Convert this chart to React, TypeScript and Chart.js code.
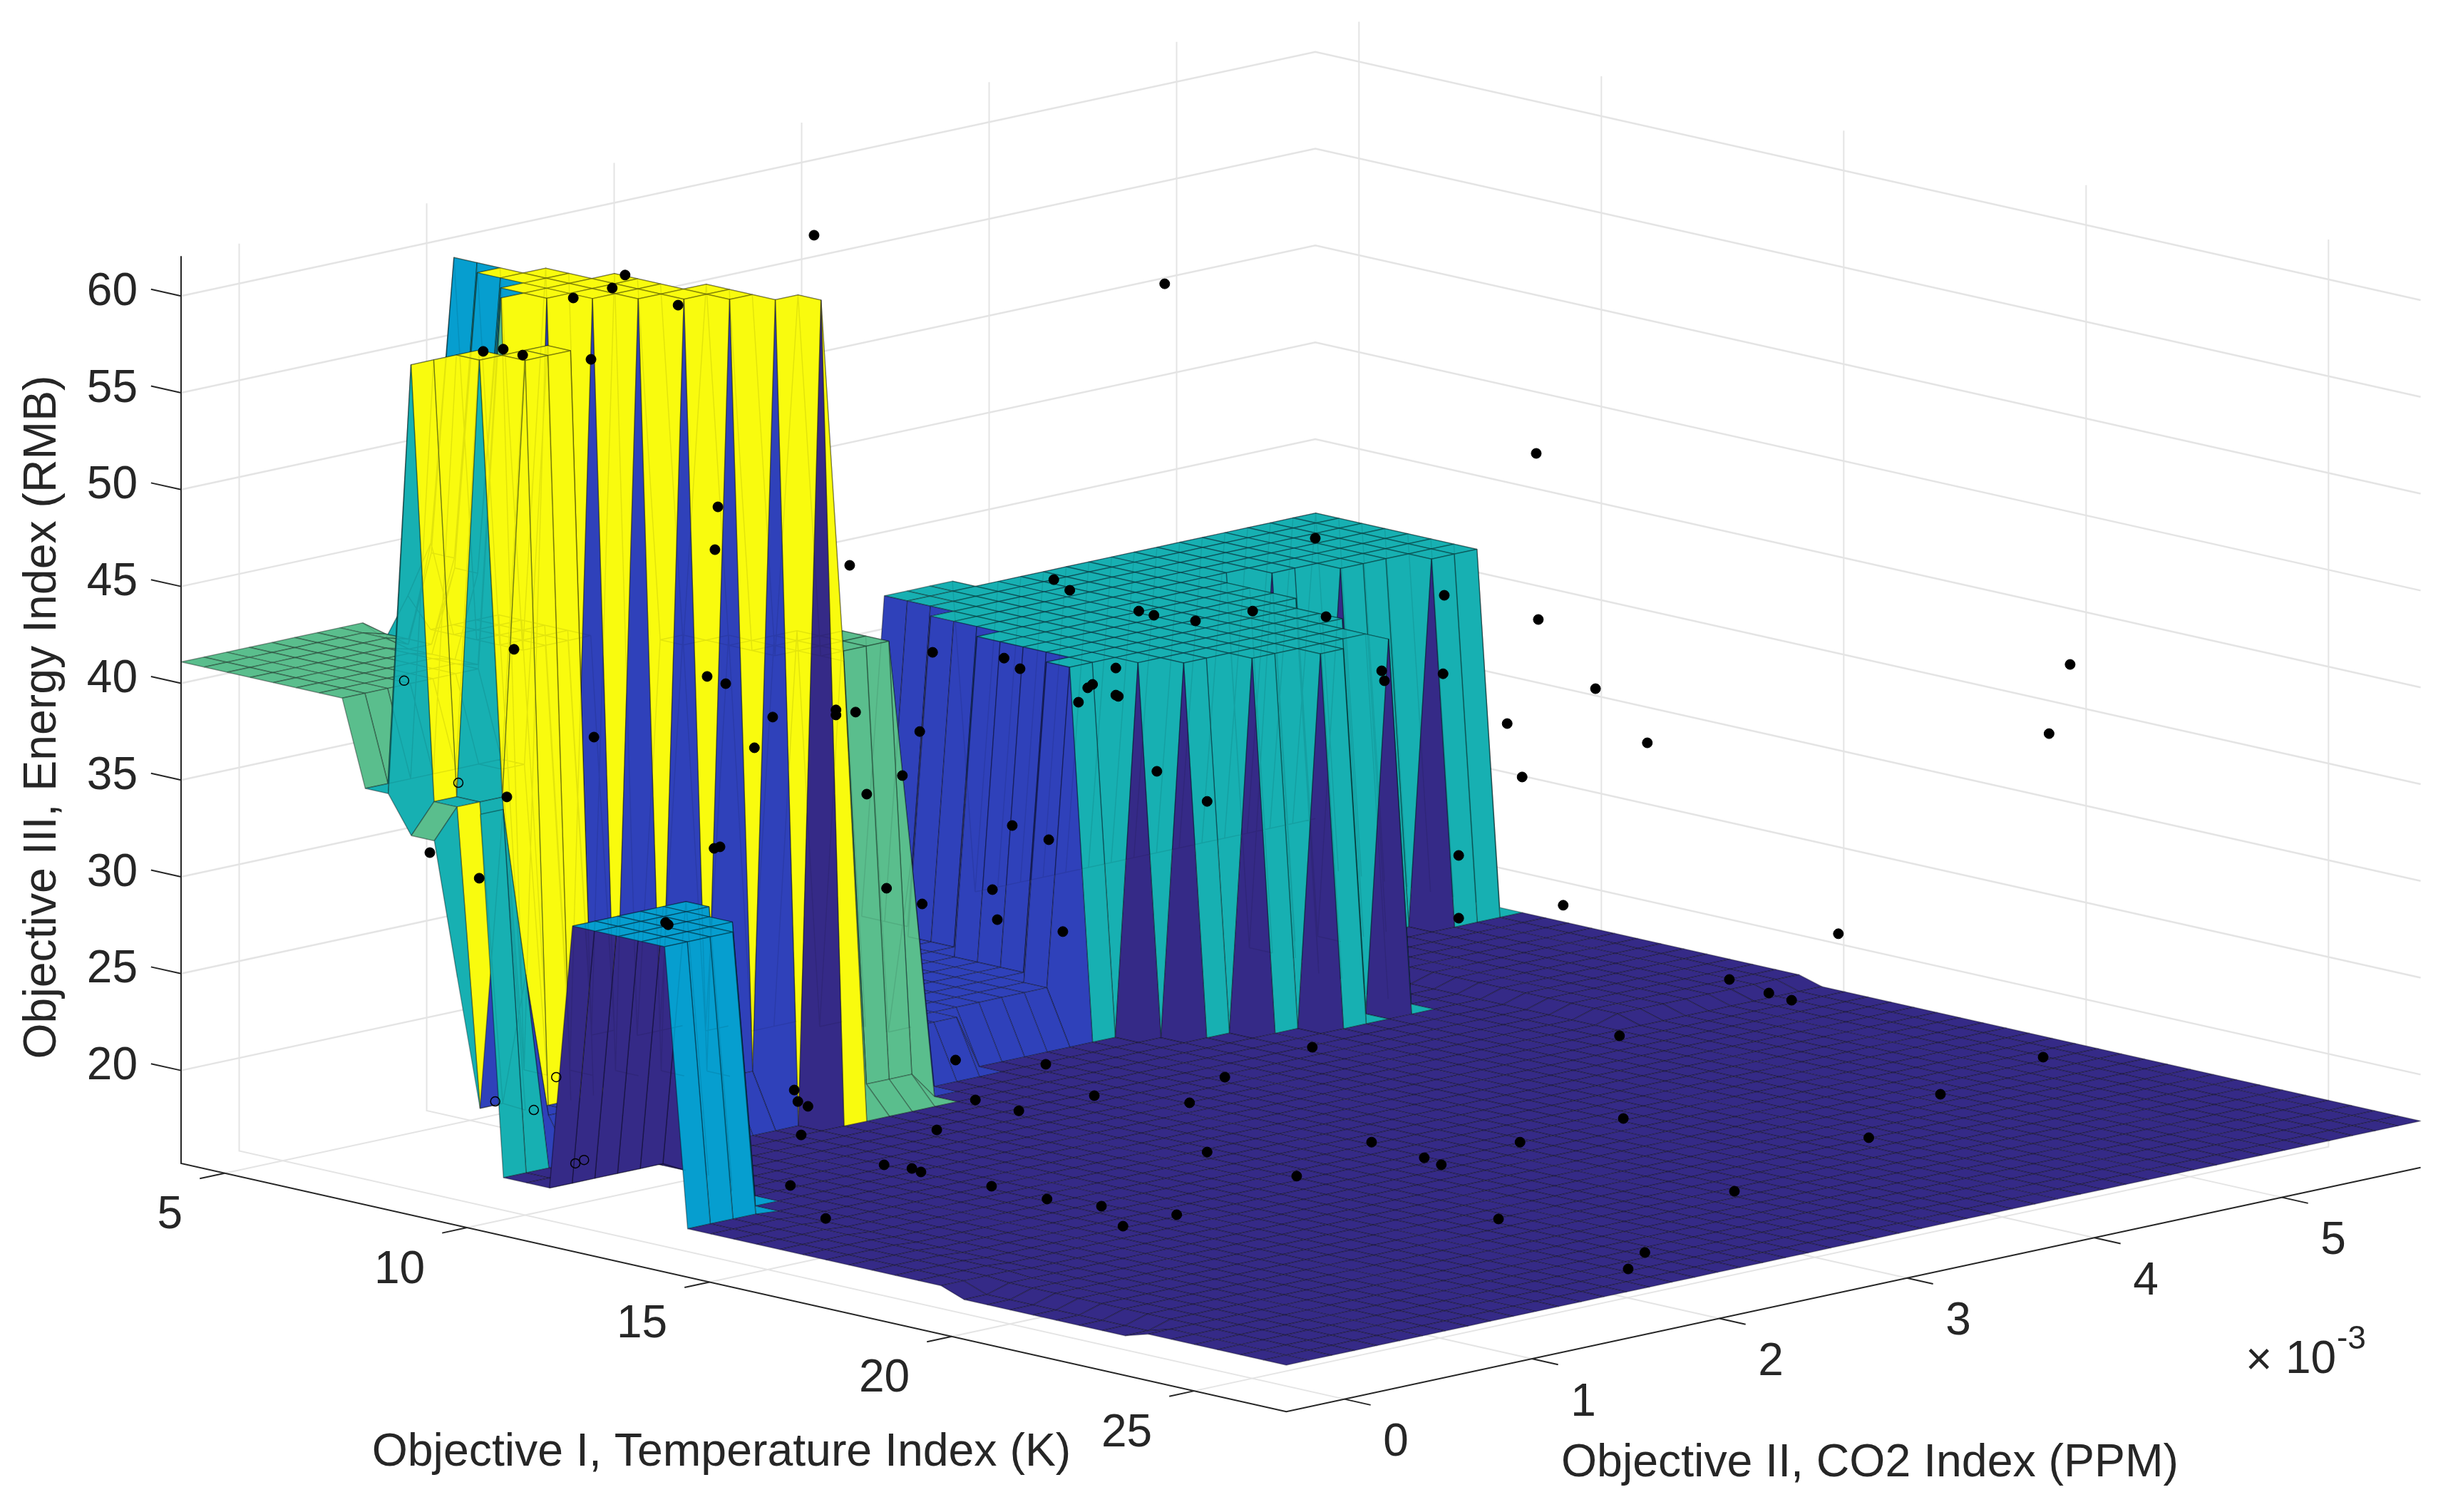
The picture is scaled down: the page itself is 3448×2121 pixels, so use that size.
import React, { useEffect, useRef } from "react";
import { Chart, registerables } from "chart.js";
Chart.register(...registerables);

const W = 3448, H = 2121;
const T_MIN = 4.1, T_MAX = 26.9, C_MIN = -0.31, C_MAX = 5.74, Z_MIN = 15.2, Z_MAX = 62.06;
const tempTicks = [5, 10, 15, 20, 25];
const co2Ticks = [0, 1, 2, 3, 4, 5];
const energyTicks = [20, 25, 30, 35, 40, 45, 50, 55, 60];
const N_T = 48, N_C = 50;

const NAVY = "#352A87", BLUE = "#2F41BA", CYAN = "#069ECF", TEAL = "#17B0B2", GREEN = "#5ABE8D", YELLOW = "#F9FB0E";

// [iFrom, iTo, jFrom, jTo] blocks of the surface lattice, per level
type R = number[];
const floorBackRects: R[] = [[0, 21, 42, 50]];
const floorMidRects: R[] = [[0, 33, 0, 3]];
const floorDipRects: R[] = [[34, 41, 0, 1]];
const floorLeftRects: R[] = [[14, 16, 0, 5]];
const blueRects: R[] = [[0, 13, 3, 18], [0, 12, 19, 22], [0, 11, 23, 29], [0, 2, 30, 30], [0, 0, 35, 50]];
const greenTopRects: R[] = [[0, 7, 0, 7], [0, 0, 8, 8]];
const backFillRects: R[] = [[0, 4, 11, 14], [0, 1, 9, 9]];
const cyanLowRects: R[] = [[2, 3, 9, 9], [4, 5, 8, 8], [1, 1, 10, 10]];
const cyanCornerRects: R[] = [[0, 0, 10, 10]];
const cyanEdgeRects: R[] = [[1, 3, 8, 8], [3, 6, 7, 7]];
const yellowTopRects: R[] = [[7, 7, 7, 7], [6, 8, 8, 8], [4, 9, 9, 9], [2, 10, 10, 10], [5, 11, 11, 11], [7, 12, 12, 12], [10, 13, 13, 13], [13, 14, 14, 14]];
const yellowLowRects: R[] = [[9, 9, 1, 2], [9, 10, 3, 3], [9, 11, 4, 4], [10, 11, 5, 6]];
const tealBandRects: R[] = [[8, 8, 0, 3], [9, 9, 0, 0], [8, 9, 4, 6], [13, 13, 0, 1]];
const tealShelfRects: R[] = [[10, 10, 1, 2], [11, 11, 2, 2]];
const yellowSlotRects: R[] = [[11, 11, 1, 1]];
const greenLowRects: R[] = [[10, 10, 0, 0]];
const tealLowRects: R[] = [[11, 11, 0, 0]];
const tealSlopeRects: R[] = [[12, 12, 0, 0]];
const blueSlotRects: R[] = [[12, 12, 1, 2]];
const blueRiseRects: R[] = [[13, 13, 2, 2]];
const blueLeanRects: R[] = [[13, 13, 19, 19]];
const yellowShelfRects: R[] = [[11, 11, 3, 3]];
const greenPlateauRects: R[] = [[8, 9, 13, 13], [8, 12, 14, 14], [9, 14, 15, 15], [10, 13, 16, 17], [11, 13, 18, 18]];
const greenFootRects: R[] = [[14, 14, 16, 18]];
const cyanPlateauRects: R[] = [[17, 21, 0, 3], [17, 20, 4, 4], [17, 18, 5, 5]];
const tealPlateauRects: R[] = [
  [10, 11, 28, 28], [6, 11, 29, 29], [3, 12, 30, 30], [0, 13, 31, 32], [0, 14, 33, 34], [1, 15, 35, 36], [1, 14, 37, 37],
  [1, 15, 38, 38], [1, 12, 39, 39], [1, 9, 40, 40], [1, 5, 41, 41], [1, 6, 42, 43], [1, 7, 44, 46], [1, 8, 47, 49],
];
// lattice cells with no face
const missingCells: number[][] = [[12, 0]];

const levels: [R[], number, string][] = [
  [floorBackRects, 17.95, NAVY], [floorMidRects, 17.7, NAVY], [floorDipRects, 17.25, NAVY], [floorLeftRects, 18.2, NAVY],
  [blueRects, 20.4, BLUE], [greenTopRects, 41.1, GREEN], [backFillRects, 40, TEAL], [cyanLowRects, 45, CYAN], [cyanCornerRects, 42, CYAN], [cyanEdgeRects, 40.8, CYAN],
  [tealBandRects, 36.7, TEAL], [yellowTopRects, 60, YELLOW], [yellowLowRects, 58.6, YELLOW], [tealShelfRects, 36.3, TEAL], [yellowSlotRects, 36.3, YELLOW],
  [greenLowRects, 34.8, GREEN], [tealLowRects, 34.8, TEAL], [tealSlopeRects, 28, TEAL],
  [blueSlotRects, 21, BLUE], [blueRiseRects, 27.9, BLUE], [blueLeanRects, 29.6, BLUE], [yellowShelfRects, 36.3, YELLOW],
  [greenPlateauRects, 41.1, GREEN], [greenFootRects, 19, GREEN], [cyanPlateauRects, 32, CYAN], [tealPlateauRects, 36.7, TEAL],
];
const floorLevel = 17.6;

const dotTemp = [10.49,14.03,8.58,8.45,8.06,9.12,7.15,7.35,7.55,8.24,9.52,9.49,10.85,7.46,9.41,9.60,8.27,10.07,9.89,10.71,10.71,10.91,11.38,11.56,7.39,11.02,6.61,7.11,9.48,9.54,11.22,11.58,8.99,9.02,10.29,10.33,10.43,10.36,10.25,10.61,11.20,11.48,11.57,12.91,13.07,13.77,13.92,14.34,14.92,15.55,15.66,16.85,16.22,16.25,16.84,11.69,12.41,12.57,13.54,13.30,13.25,13.54,13.56,13.16,13.95,14.46,12.49,12.86,12.29,12.34,13.00,17.49,17.64,17.00,17.00,15.52,11.92,12.83,14.64,13.32,12.12,12.56,14.28,11.73,12.28,12.84,13.39,14.15,13.61,14.46,15.36,16.12,16.65,16.82,17.40,18.05,20.83,19.73,20.13,20.36,18.62,22.90,21.86,18.66,17.62,21.14,19.78,18.88,18.71,17.78,17.80,18.38,23.17,22.96,18.90];
const dotCo2 = [1.414,2.369,0.900,0.865,0.758,1.043,0.513,0.568,0.620,0.806,1.152,1.144,1.511,0.597,1.123,1.173,0.814,1.302,1.251,1.474,1.474,1.527,1.655,1.701,0.577,1.558,0.368,0.502,1.142,1.158,1.612,1.709,1.010,1.016,1.360,1.369,1.397,1.379,1.350,1.445,1.604,1.680,1.705,2.067,2.111,2.298,2.340,2.453,2.608,2.779,2.808,3.131,2.960,2.967,3.127,1.736,1.931,1.975,2.235,2.173,2.160,2.235,2.243,2.134,2.348,2.484,1.954,2.053,1.900,1.913,2.092,3.301,3.342,3.169,3.169,2.771,1.799,2.045,2.532,2.177,1.853,1.971,2.437,1.748,1.898,2.049,2.197,2.402,2.255,2.484,2.729,2.932,3.076,3.123,3.278,3.455,4.204,3.907,4.014,4.076,3.608,4.761,4.482,3.618,3.336,4.286,3.921,3.676,3.631,3.381,3.387,3.542,4.835,4.777,3.684];
const dotEnergy = [63.14,60.63,61.08,60.41,59.90,59.53,57.14,57.25,56.95,56.73,49.11,46.90,46.09,41.75,40.35,39.98,37.22,38.25,36.67,38.62,38.36,38.51,35.23,37.51,34.13,34.27,31.25,29.93,31.47,31.55,29.41,28.60,27.64,27.53,18.99,18.40,18.15,16.67,14.06,12.36,15.13,14.94,14.76,45.35,44.80,43.73,43.51,43.22,43.73,47.49,43.44,44.54,40.64,40.13,40.49,41.60,41.30,40.75,40.79,39.94,39.76,39.39,39.32,39.02,35.45,33.90,32.65,31.92,29.34,27.79,27.17,37.92,35.16,31.11,27.87,21.20,20.54,20.32,19.66,18.70,18.48,17.92,18.33,16.93,14.02,13.36,12.99,12.55,11.96,15.79,14.54,16.30,15.49,15.13,12.33,28.53,27.06,24.70,24.00,23.63,21.79,20.69,18.77,17.52,16.30,16.53,13.76,10.60,9.75,51.87,43.29,39.72,40.97,37.40,36.92];
const hollowTemp = [7.89,7.27,7.66,8.08,8.17,6.35,6.90];
const hollowCo2 = [0.711,0.546,0.651,0.764,0.787,0.298,0.445];
const hollowEnergy = [19.66,18.40,17.96,15.20,15.38,40.13,34.86];

function project(t: number, c: number, z: number) {
  return {
    x: 254 + 68 * (t - T_MIN) + 263 * (c - C_MIN),
    y: 1632 + 15.27 * (t - T_MIN) - 56.6 * (c - C_MIN) - 27.16 * (z - Z_MIN),
  };
}
const tAt = (i: number) => T_MIN + ((T_MAX - T_MIN) * i) / N_T;
const cAt = (j: number) => C_MIN + ((C_MAX - C_MIN) * j) / N_C;

function buildSurface() {
  const Z: number[][] = [], K: string[][] = [];
  for (let i = 0; i <= N_T; i++) {
    Z.push(new Array(N_C + 1).fill(floorLevel));
    K.push(new Array(N_C + 1).fill(NAVY));
  }
  for (const [rects, z, col] of levels)
    for (const [i0, i1, j0, j1] of rects)
      for (let i = i0; i <= i1; i++) for (let j = j0; j <= j1; j++) { Z[i][j] = z; K[i][j] = col; }
  return { Z, K };
}

function line(points: { x: number; y: number }[], color: string, width: number) {
  return { data: points, showLine: true, fill: false, borderColor: color, borderWidth: width, pointRadius: 0, tension: 0, clip: false, backgroundColor: "transparent" };
}

function buildDatasets() {
  const out: any[] = [];
  const grid = "#e4e4e4";
  // floor and wall grids
  for (const t of tempTicks) {
    out.push(line([project(t, C_MIN, Z_MIN), project(t, C_MAX, Z_MIN), project(t, C_MAX, Z_MAX)], grid, 2));
  }
  for (const c of co2Ticks) {
    out.push(line([project(T_MAX, c, Z_MIN), project(T_MIN, c, Z_MIN), project(T_MIN, c, Z_MAX)], grid, 2));
  }
  for (const z of energyTicks) {
    out.push(line([project(T_MIN, C_MIN, z), project(T_MIN, C_MAX, z), project(T_MAX, C_MAX, z)], grid, 2.5));
  }
  // axes and ticks
  const ax = "#262626";
  out.push(line([project(T_MIN, C_MIN, Z_MAX), project(T_MIN, C_MIN, Z_MIN), project(T_MAX, C_MIN, Z_MIN), project(T_MAX, C_MAX, Z_MIN)], ax, 2));
  for (const t of tempTicks) out.push(line([project(t, C_MIN, Z_MIN), project(t, C_MIN - 0.133, Z_MIN)], ax, 2));
  for (const c of co2Ticks) out.push(line([project(T_MAX, c, Z_MIN), project(T_MAX + 0.54, c, Z_MIN)], ax, 2));
  for (const z of energyTicks) out.push(line([project(T_MIN, C_MIN, z), project(T_MIN - 0.62, C_MIN, z)], ax, 2));

  // surface, far cells first
  const { Z, K } = buildSurface();
  const V = (i: number, j: number) => project(tAt(i), cAt(j), Z[i][j]);
  const isMissing = (i: number, j: number) => missingCells.some((m) => m[0] === i && m[1] === j);
  for (let i = 0; i < N_T; i++) {
    for (let j = N_C - 1; j >= 0; j--) {
      if (isMissing(i, j)) continue;
      const a = V(i, j), b = V(i + 1, j), c = V(i + 1, j + 1), d = V(i, j + 1);
      out.push({
        data: [a, b, c, d, a], showLine: true, fill: "shape", backgroundColor: K[i][j],
        borderColor: "rgba(0,0,0,0.3)", borderWidth: 1.5, pointRadius: 0, tension: 0, clip: false, borderJoinStyle: "round",
      });
    }
  }
  // the raised mesh stays faintly visible through the faces in front of it
  const ghost: { x: number; y: number }[] = [];
  const gap = { x: NaN, y: NaN };
  for (let i = 0; i < N_T; i++)
    for (let j = 0; j < N_C; j++) {
      const high = Math.max(Z[i][j], Z[i + 1][j], Z[i][j + 1]);
      if (high < 25 || isMissing(i, j)) continue;
      ghost.push(V(i, j), V(i + 1, j), gap, V(i, j), V(i, j + 1), gap);
    }
  out.push(line(ghost, "rgba(0,0,0,0.09)", 1.5));

  // observations
  out.push({
    data: dotTemp.map((t, k) => project(t, dotCo2[k], dotEnergy[k])), showLine: false, pointRadius: 7, pointBackgroundColor: "#000", pointBorderColor: "#000", pointBorderWidth: 1, clip: false,
  });
  out.push({
    data: hollowTemp.map((t, k) => project(t, hollowCo2[k], hollowEnergy[k])), showLine: false, pointRadius: 6.5, pointBackgroundColor: "rgba(0,0,0,0)", pointBorderColor: "#000", pointBorderWidth: 1.5, clip: false,
  });
  return out.reverse(); // Chart.js paints the first dataset last
}

const labelsPlugin = {
  id: "axisText",
  afterDraw(chart: any) {
    const { ctx, scales } = chart;
    const px = (p: { x: number; y: number }) => ({ x: scales.x.getPixelForValue(p.x), y: scales.y.getPixelForValue(p.y) });
    ctx.save();
    ctx.fillStyle = "#262626";
    ctx.font = '64px "Liberation Sans"';
    ctx.textBaseline = "middle";
    ctx.textAlign = "right";
    for (const z of energyTicks) {
      const p = px(project(T_MIN, C_MIN, z));
      ctx.fillText(String(z), p.x - 61, p.y - 5);
    }
    for (const t of tempTicks) {
      const p = px(project(t, C_MIN, Z_MIN));
      ctx.fillText(String(t), p.x - 59, p.y + 60);
    }
    ctx.textAlign = "center";
    for (const c of co2Ticks) {
      const p = px(project(T_MAX, c, Z_MIN));
      ctx.fillText(String(c), p.x + 72, p.y + 62);
    }
    ctx.font = '64.4px "Liberation Sans"';
    ctx.fillText("Objective I, Temperature Index (K)", 1012, 2038);
    ctx.fillText("Objective II, CO2 Index (PPM)", 2623, 2053);
    ctx.font = '64px "Liberation Sans"';
    ctx.textAlign = "left";
    ctx.fillText("\u00d7", 3150, 1910);
    ctx.fillText("10", 3206, 1908);
    ctx.font = '46px "Liberation Sans"';
    ctx.fillText("-3", 3278, 1879);
    ctx.font = '64.4px "Liberation Sans"';
    ctx.translate(60, 1006);
    ctx.rotate(-Math.PI / 2);
    ctx.textAlign = "center";
    ctx.fillText("Objective III, Energy Index (RMB)", 0, 0);
    ctx.restore();
  },
};

export default function App() {
  const ref = useRef<HTMLCanvasElement>(null);
  useEffect(() => {
    document.body.style.margin = "0";
    document.body.style.background = "#fff";
    const chart = new Chart(ref.current as HTMLCanvasElement, {
      type: "scatter",
      data: { datasets: buildDatasets() },
      options: {
        animation: false,
        responsive: false,
        events: [],
        layout: { padding: 0, autoPadding: false },
        plugins: { legend: { display: false }, tooltip: { enabled: false }, title: { display: false } },
        scales: {
          x: { type: "linear", display: false, min: 0, max: W },
          y: { type: "linear", display: false, min: 0, max: H, reverse: true },
        },
      },
      plugins: [labelsPlugin],
    } as any);
    return () => chart.destroy();
  }, []);
  return (
    <div style={{ position: "absolute", left: 0, top: 0, width: W, height: H, background: "#fff" }}>
      <canvas ref={ref} width={W} height={H} style={{ display: "block" }} />
    </div>
  );
}
